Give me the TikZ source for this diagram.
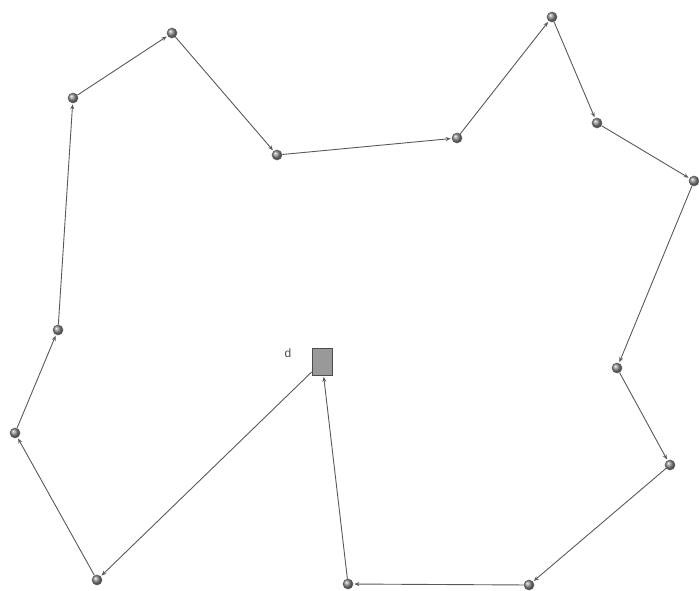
\documentclass[tikz,border=0pt]{standalone}
\usepackage{fontspec}
\setmainfont{Liberation Sans}
\usetikzlibrary{arrows.meta}
\begin{document}
\begin{tikzpicture}[x=1pt,y=-1pt,
  dot/.style={circle,inner sep=0pt,minimum size=10pt,draw=black!60,line width=0.6pt,ball color=black!45,shading=ball},
  depot/.style={rectangle,inner sep=0pt,minimum width=20pt,minimum height=27pt,draw=black!70,fill=black!40,line width=0.6pt},
  link/.style={draw=black!65,line width=0.9pt,-{Stealth[length=5pt,width=4pt]},shorten >=1pt}]
\useasboundingbox (0,0) rectangle (699,591);
\node[dot] (n1) at (172,33) {};
\node[dot] (n2) at (73,98) {};
\node[dot] (n3) at (277,155) {};
\node[dot] (n4) at (457,138) {};
\node[dot] (n5) at (552,17) {};
\node[dot] (n6) at (597,123) {};
\node[dot] (n7) at (694,181) {};
\node[dot] (n8) at (617,368) {};
\node[dot] (n9) at (670,465) {};
\node[dot] (n10) at (529,585) {};
\node[dot] (n11) at (348,584) {};
\node[depot] (d) at (322,362) {};
\node[font=\fontsize{12}{14}\selectfont,text=black!70] (dl) at (288,353) {d};
\node[dot] (n13) at (97,580) {};
\node[dot] (n14) at (15,433) {};
\node[dot] (n15) at (58,330) {};
\draw[link] (n2) -- (n1);
\draw[link] (n1) -- (n3);
\draw[link] (n3) -- (n4);
\draw[link] (n4) -- (n5);
\draw[link] (n5) -- (n6);
\draw[link] (n6) -- (n7);
\draw[link] (n7) -- (n8);
\draw[link] (n8) -- (n9);
\draw[link] (n9) -- (n10);
\draw[link] (n10) -- (n11);
\draw[link] (n11) -- (d);
\draw[link] (d) -- (n13);
\draw[link] (n13) -- (n14);
\draw[link] (n14) -- (n15);
\draw[link] (n15) -- (n2);
\end{tikzpicture}
\end{document}
